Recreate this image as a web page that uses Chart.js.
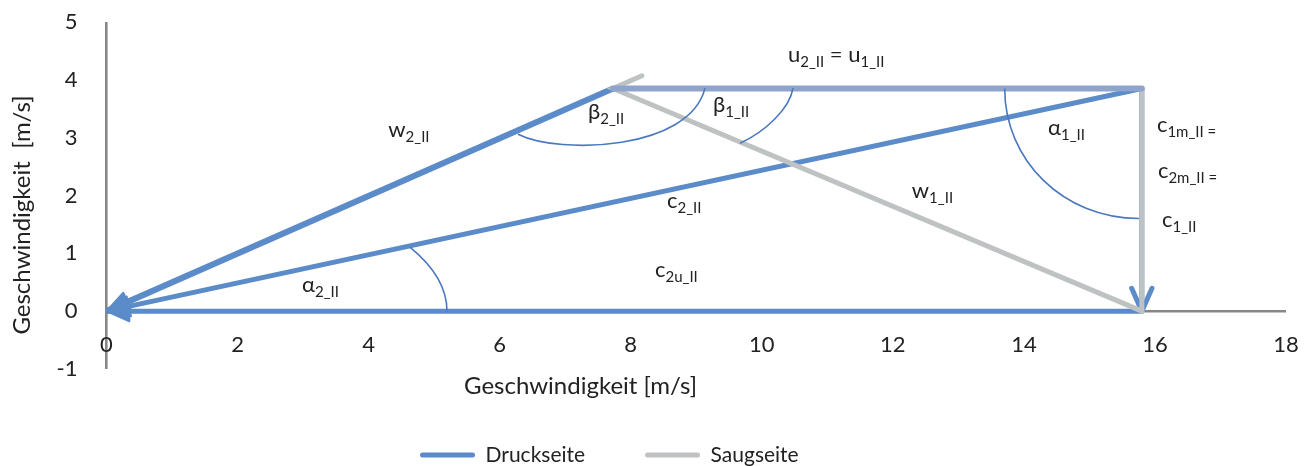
<!DOCTYPE html>
<html lang="de">
<head>
<meta charset="utf-8">
<title>Geschwindigkeitsdreieck Stufe II</title>
<script src="https://cdn.jsdelivr.net/npm/chart.js@4.4.1/dist/chart.umd.min.js"></script>
<style>
  html, body { margin: 0; padding: 0; background: #ffffff; }
  #wrap { width: 1316px; height: 466px; }
</style>
</head>
<body>
<div id="wrap"><canvas id="chart" width="1316" height="466"></canvas></div>
<script>
// Velocity triangle of stage II, all values in m/s
const xTickValues = [0, 2, 4, 6, 8, 10, 12, 14, 16, 18];
const yTickValues = [-1, 0, 1, 2, 3, 4, 5];

// Druckseite: each vector runs from its tail to its arrow tip
const w2Points  = [{x: 7.73, y: 3.85}, {x: 0, y: 0}];
const c2Points  = [{x: 15.8, y: 3.85}, {x: 0, y: 0}];
const c2uPoints = [{x: 15.8, y: 0}, {x: 0, y: 0}];
const c1Points  = [{x: 15.8, y: 3.85}, {x: 15.8, y: 0}];

// Saugseite
const w1Points  = [{x: 8.17, y: 4.07}, {x: 7.73, y: 3.85}, {x: 15.8, y: 0}];
const cmPoints  = [{x: 15.8, y: 3.85}, {x: 15.8, y: 0}];

// Umfangsgeschwindigkeit u2 = u1
const uPoints   = [{x: 7.73, y: 3.85}, {x: 15.8, y: 3.85}];

// Angle arcs as cubic Bézier curves in axis units: start, control 1, control 2, end
const arcAlpha2 = [[4.63, 1.107], [5.002, 0.764], [5.196, 0.384], [5.196, 0]];
const arcBeta2  = [[6.28, 3.06], [6.92, 2.698], [8.905, 2.784], [9.133, 3.856]];
const arcBeta1  = [[10.476, 3.856], [10.431, 3.51], [10.05, 3.095], [9.668, 2.905]];
const arcAlpha1 = [[13.707, 3.851], [13.707, 2.609], [14.601, 1.603], [15.756, 1.603]];

// Symbol labels: anchor (left edge, baseline) in axis units, pieces 'm' = symbol, 's' = index
const symbolLabels = [
  {at: [4.30, 3.009],   parts: [['w', 'm'], ['2_II', 's']]},
  {at: [7.348, 3.32],   parts: [['β', 'm'], ['2_II', 's']]},
  {at: [9.255, 3.441],  parts: [['β', 'm'], ['1_II', 's']]},
  {at: [10.40, 4.306],  parts: [['u', 'm'], ['2_II', 's'], [' = u', 'm'], ['1_II', 's']]},
  {at: [14.367, 3.043], parts: [['α', 'm'], ['1_II', 's']]},
  {at: [16.03, 3.095],  parts: [['c', 'm'], ['1m_II =', 's']]},
  {at: [16.045, 2.30],  parts: [['c', 'm'], ['2m_II =', 's']]},
  {at: [16.107, 1.4525],parts: [['c', 'm'], ['1_II', 's']]},
  {at: [8.553, 1.781],  parts: [['c', 'm'], ['2_II', 's']]},
  {at: [12.29, 1.954],  parts: [['w', 'm'], ['1_II', 's']]},
  {at: [8.37, 0.588],   parts: [['c', 'm'], ['2u_II', 's']]},
  {at: [2.983, 0.329],  parts: [['α', 'm'], ['2_II', 's']]}
];

const BLUE = '#5b8bc9';
const GREY = '#bec2c3';
const U_COLOR = '#8ea4cc';
const AXIS_COLOR = '#878787';
const ARC_COLOR = '#4a78bf';
const TEXT_COLOR = '#222222';
const FONT = "Lato, 'Noto Sans', 'DejaVu Sans', sans-serif";

Chart.defaults.font.family = FONT;
Chart.defaults.color = TEXT_COLOR;

function line(label, data, color, width, order, extra) {
  return Object.assign({
    label: label,
    data: data,
    showLine: true,
    borderColor: color,
    backgroundColor: color,
    borderWidth: width,
    borderCapStyle: 'round',
    pointRadius: 0,
    pointHoverRadius: 0,
    order: order
  }, extra || {});
}

const datasets = [
  line('Druckseite', c2uPoints, BLUE, 5, 3, {arrow: 'solid', inLegend: true, borderCapStyle: 'butt'}),
  line('Druckseite', c2Points, BLUE, 5, 3, {arrow: 'solid', borderCapStyle: 'butt'}),
  line('Druckseite', w2Points, BLUE, 6, 3, {arrow: 'solid', borderCapStyle: 'butt'}),
  line('Druckseite', c1Points, BLUE, 5, 3, {arrow: 'open'}),
  line('Saugseite', w1Points, GREY, 5, 2, {inLegend: true}),
  line('Saugseite', cmPoints, GREY, 5, 2),
  line('u', uPoints, U_COLOR, 6, 1)
];

// Arrowheads at the last point of each vector, drawn right after its own line
const arrowHeads = {
  id: 'arrowHeads',
  afterDatasetDraw(chart, args) {
    const ds = chart.data.datasets[args.index];
    if (!ds.arrow) return;
    const pts = args.meta.data;
    const tip = pts[pts.length - 1];
    const tail = pts[pts.length - 2];
    const a = Math.atan2(tail.y - tip.y, tail.x - tip.x);
    const len = 25, half = 24 * Math.PI / 180;
    const p1 = [tip.x + len * Math.cos(a + half), tip.y + len * Math.sin(a + half)];
    const p2 = [tip.x + len * Math.cos(a - half), tip.y + len * Math.sin(a - half)];
    const ctx = chart.ctx;
    ctx.save();
    ctx.strokeStyle = ds.borderColor;
    ctx.fillStyle = ds.borderColor;
    ctx.lineJoin = 'round';
    ctx.lineCap = 'round';
    if (ds.arrow === 'solid') {
      ctx.lineWidth = 2;
      ctx.beginPath();
      ctx.moveTo(tip.x, tip.y);
      ctx.lineTo(p1[0], p1[1]);
      ctx.lineTo(p2[0], p2[1]);
      ctx.closePath();
      ctx.fill();
      ctx.stroke();
    } else {
      ctx.lineWidth = ds.borderWidth;
      ctx.beginPath();
      ctx.moveTo(p1[0], p1[1]);
      ctx.lineTo(tip.x, tip.y);
      ctx.lineTo(p2[0], p2[1]);
      ctx.stroke();
    }
    ctx.restore();
  }
};

// Angle arcs and the vector symbols
const annotations = {
  id: 'annotations',
  afterDatasetsDraw(chart) {
    const ctx = chart.ctx;
    const xs = chart.scales.x, ys = chart.scales.y;
    const px = p => [xs.getPixelForValue(p[0]), ys.getPixelForValue(p[1])];
    ctx.save();
    ctx.strokeStyle = ARC_COLOR;
    ctx.lineWidth = 1.6;
    [arcAlpha2, arcBeta2, arcBeta1, arcAlpha1].forEach(arc => {
      const [a, b, c, d] = arc.map(px);
      ctx.beginPath();
      ctx.moveTo(a[0], a[1]);
      ctx.bezierCurveTo(b[0], b[1], c[0], c[1], d[0], d[1]);
      ctx.stroke();
    });
    ctx.fillStyle = TEXT_COLOR;
    ctx.textAlign = 'left';
    ctx.textBaseline = 'alphabetic';
    symbolLabels.forEach(item => {
      let [x, y] = px(item.at);
      item.parts.forEach(([txt, kind]) => {
        ctx.font = kind === 'm' ? '22px ' + FONT : '15px ' + FONT;
        ctx.fillText(txt, x, kind === 'm' ? y : y + 5);
        x += ctx.measureText(txt).width;
      });
    });
    ctx.restore();
  }
};

// Axis titles
const axisTitles = {
  id: 'axisTitles',
  afterDraw(chart) {
    const ctx = chart.ctx;
    const area = chart.chartArea;
    ctx.save();
    ctx.fillStyle = TEXT_COLOR;
    ctx.font = '24px ' + FONT;
    ctx.textAlign = 'center';
    ctx.textBaseline = 'middle';
    ctx.fillText('Geschwindigkeit [m/s]', area.left + 474, area.bottom + 17);
    ctx.translate(area.left - 84, area.top + 193);
    ctx.rotate(-Math.PI / 2);
    ctx.fillText('Geschwindigkeit  [m/s]', 0, 0);
    ctx.restore();
  }
};

// Legend row: first entry starts at x = 420, text centred at y = 455;
// the wide label padding only serves as the gap between the two entries
const LEGEND_START_X = 420;
const LEGEND_MID_Y = 455;
const legendPlacement = {
  id: 'legendPlacement',
  afterLayout(chart) {
    const lg = chart.legend;
    const pad = lg.options.labels.padding;
    const itemH = Math.max(lg.options.labels.font.size, lg.options.labels.boxHeight);
    lg.left = 2 * LEGEND_START_X - pad - lg.right + lg.lineWidths[0];
    lg.top = LEGEND_MID_Y - itemH / 2 - pad;
    lg.bottom = chart.height;
  }
};

const gridColor = c => (c.tick && c.tick.value === 0 ? AXIS_COLOR : 'rgba(0,0,0,0)');

new Chart(document.getElementById('chart'), {
  type: 'scatter',
  data: {datasets: datasets},
  options: {
    responsive: false,
    animation: false,
    devicePixelRatio: 1,
    events: [],
    layout: {padding: {top: 22, right: 30, bottom: 0, left: 0}},
    scales: {
      x: {
        type: 'linear',
        min: 0, max: 18,
        afterBuildTicks: s => { s.ticks = xTickValues.map(v => ({value: v})); },
        afterFit: s => { s.height = 57; },
        border: {display: false},
        grid: {drawTicks: false, color: gridColor, lineWidth: 2.6},
        // mirrored labels are drawn upward from the plot's lower edge, level with y ≈ -0.4
        ticks: {mirror: true, padding: 11, color: TEXT_COLOR, font: {size: 22}, maxRotation: 0}
      },
      y: {
        type: 'linear',
        min: -1, max: 5,
        afterBuildTicks: s => { s.ticks = yTickValues.map(v => ({value: v})); },
        afterFit: s => { s.width = 106.5; s.paddingTop = 0; s.paddingBottom = 0; },
        border: {display: false},
        grid: {drawTicks: false, color: gridColor, lineWidth: 2.6},
        ticks: {padding: 29, color: TEXT_COLOR, font: {size: 22}}
      }
    },
    plugins: {
      tooltip: {enabled: false},
      legend: {
        position: 'bottom',
        maxHeight: 40,
        labels: {
          padding: 60,
          boxWidth: 55,
          boxHeight: 5,
          useBorderRadius: true,
          borderRadius: 2.5,
          color: TEXT_COLOR,
          font: {size: 21},
          sort: (a, b) => a.datasetIndex - b.datasetIndex,
          filter: (item, data) => !!data.datasets[item.datasetIndex].inLegend,
          generateLabels: chart => Chart.defaults.plugins.legend.labels.generateLabels(chart)
            .map(it => Object.assign(it, {fillStyle: it.strokeStyle, lineWidth: 0}))
        }
      }
    }
  },
  plugins: [arrowHeads, annotations, axisTitles, legendPlacement]
});
</script>
</body>
</html>
